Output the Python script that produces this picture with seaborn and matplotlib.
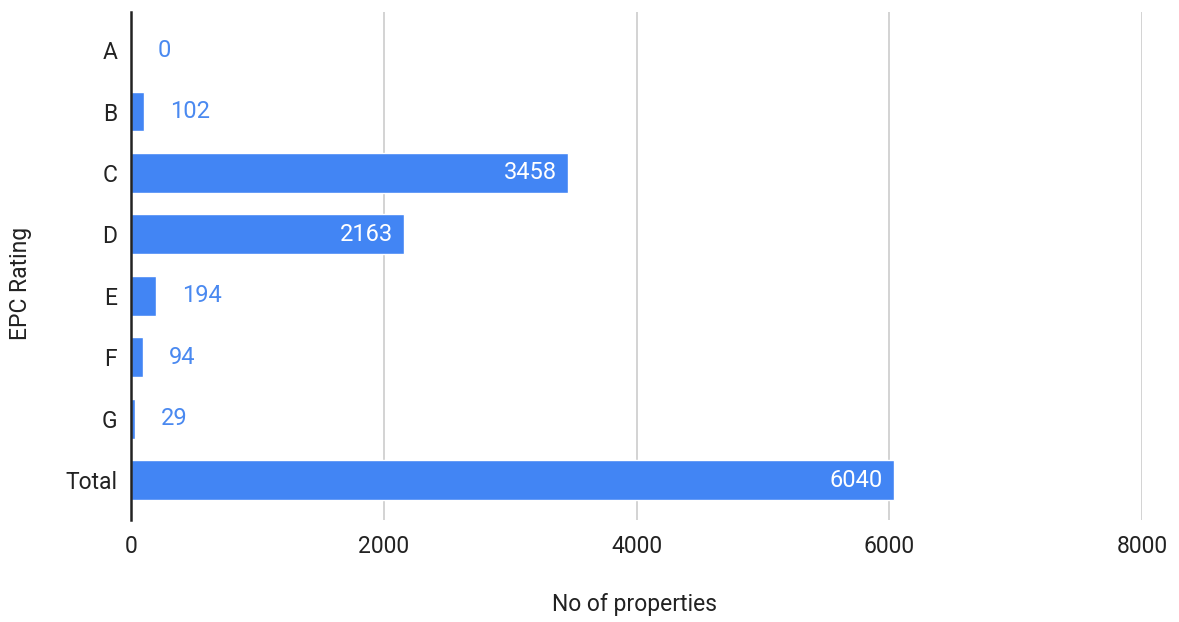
import matplotlib
matplotlib.use("Agg")
import matplotlib.pyplot as plt
import seaborn as sns
import pandas as pd

categories = ["A", "B", "C", "D", "E", "F", "G", "Total"]
values = [0, 102, 3458, 2163, 194, 94, 29, 6040]
xticks = [0, 2000, 4000, 6000, 8000]

sns.set_theme(style="white")
plt.rcParams["font.family"] = ["Roboto", "DejaVu Sans"]

df = pd.DataFrame({"EPC Rating": categories, "No of properties": values})

fig = plt.figure(figsize=(11.79, 6.22), dpi=100)
ax = fig.add_axes([131/1179, 1-520/622, (1142-131)/1179, (520-12)/622])

bar_color = "#4285F4"
sns.barplot(data=df, y="EPC Rating", x="No of properties", orient="h",
            color=bar_color, saturation=1, width=0.65, ax=ax, zorder=3)

ax.set_xlim(0, 8000)
ax.set_ylim(7.65, -0.62)
ax.set_xticks(xticks)
ax.set_xticklabels([str(t) for t in xticks], fontsize=16.5, color="#222222")
ax.tick_params(axis="y", labelsize=16.5, labelcolor="#222222", length=0, pad=10)
ax.tick_params(axis="x", length=0, pad=11)
for t in ax.get_yticklabels():
    t.set_fontsize(16.5)

ax.grid(axis="x", color="#cccccc", linewidth=1.2, zorder=0)
ax.grid(axis="y", visible=False)
for s in ["top", "right", "bottom"]:
    ax.spines[s].set_visible(False)
ax.spines["left"].set_color("#222222")
ax.spines["left"].set_linewidth(1.8)
ax.spines["left"].set_zorder(5)

ax.set_xlabel("No of properties", fontsize=16.5, color="#222222")
ax.set_ylabel("EPC Rating", fontsize=16.5, color="#222222")
ax.xaxis.set_label_coords((635-131)/1011, -(605-520)/508)
ax.yaxis.set_label_coords((20-131)/1011, (520-283)/508)
ax.xaxis.label.set_va("center")
ax.yaxis.label.set_va("center")

for i, v in enumerate(values):
    if v > 1000:
        ax.annotate(str(v), xy=(v, i), xytext=(-8, 0), textcoords="offset points",
                    ha="right", va="center", fontsize=17, color="white", zorder=6)
    else:
        ax.annotate(str(v), xy=(v, i), xytext=(19, 0), textcoords="offset points",
                    ha="left", va="center", fontsize=17, color="#4a89f0", zorder=6)

fig.savefig("out.png", dpi=100)
